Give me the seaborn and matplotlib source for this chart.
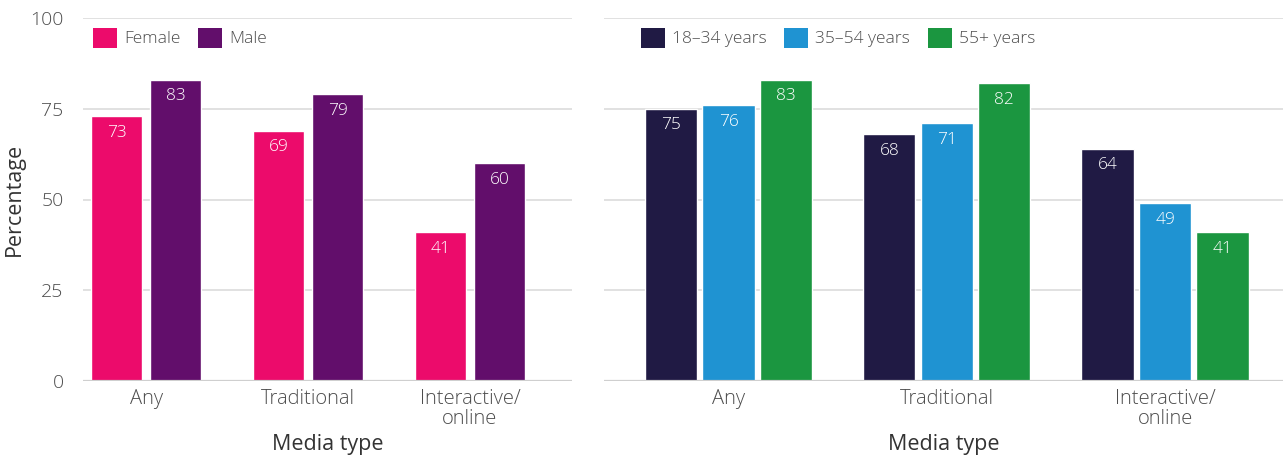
import numpy as np
import pandas as pd
import matplotlib
matplotlib.use("Agg")
import matplotlib.pyplot as plt
from matplotlib.patches import Patch
import seaborn as sns

# Media types and survey results (percent)
media_types = ["Any", "Traditional", "Interactive/\nonline"]

sex_groups = ["Female", "Male"]
female_pct = [73, 69, 41]
male_pct = [83, 79, 60]

age_groups = ["18\u201334 years", "35\u201354 years", "55+ years"]
age_18_34_pct = [75, 68, 64]
age_35_54_pct = [76, 71, 49]
age_55_plus_pct = [83, 82, 41]

sex_colors = ["#EC0B6B", "#620E6B"]
age_colors = ["#201A44", "#1F93D2", "#1B9640"]

sex_df = pd.DataFrame({
    "Media type": media_types * 2,
    "Group": [g for g in sex_groups for _ in media_types],
    "Percentage": female_pct + male_pct,
})
age_df = pd.DataFrame({
    "Media type": media_types * 3,
    "Group": [g for g in age_groups for _ in media_types],
    "Percentage": age_18_34_pct + age_35_54_pct + age_55_plus_pct,
})

sns.set_theme(style="white")
plt.rcParams["font.family"] = ["Open Sans", "DejaVu Sans"]
plt.rcParams["font.weight"] = "light"
text_grey = "#4d4d4d"

fig = plt.figure(figsize=(12.85, 4.57), dpi=100)
ax_l = fig.add_axes([83 / 1285, 76 / 457, 489 / 1285, 363 / 457])
ax_r = fig.add_axes([604 / 1285, 76 / 457, 679 / 1285, 363 / 457])


def draw_panel(ax, df, groups, colors, width, gap, xlim, legend_cols):
    sns.barplot(data=df, x="Media type", y="Percentage", hue="Group",
                hue_order=groups, palette=colors, width=width, gap=gap,
                saturation=1, errorbar=None, ax=ax, legend=False, zorder=3)
    ax.set_ylim(0, 100)
    ax.set_xlim(*xlim)
    ax.set_yticks([0, 25, 50, 75, 100])
    for y in [25, 50, 75, 100]:
        ax.axhline(y, color="#dcdcdc", lw=1.2, zorder=1)
    ax.axhline(0, color="#cfcfcf", lw=1.6, zorder=4)
    for s in ax.spines.values():
        s.set_visible(False)
    ax.tick_params(axis="x", length=0, labelsize=14.5, colors=text_grey, pad=6)
    ax.tick_params(axis="y", length=0, labelsize=14, colors=text_grey, pad=14)
    for lbl in ax.get_xticklabels():
        lbl.set_linespacing(0.95)
    ax.set_xlabel("Media type", fontsize=15.5, color="#333333", labelpad=4)
    for container in ax.containers:
        for bar in container:
            h = bar.get_height()
            ax.annotate(f"{h:.0f}", (bar.get_x() + bar.get_width() / 2, h),
                        xytext=(0, -12), textcoords="offset points",
                        ha="center", va="center", color="white",
                        fontsize=12.5, zorder=5)
    handles = [Patch(facecolor=c, edgecolor="none") for c in colors]
    ax.legend(handles, groups, loc="upper left", bbox_to_anchor=(0.0, 1.0),
              ncol=legend_cols, frameon=False, fontsize=12.5,
              handlelength=1.4, handleheight=1.4, handletextpad=0.4,
              columnspacing=1.0, labelcolor=text_grey, borderaxespad=0.15)


draw_panel(ax_l, sex_df, sex_groups, sex_colors, width=0.73, gap=0.14,
           xlim=(-0.39, 2.63), legend_cols=2)
ax_l.set_ylabel("Percentage", fontsize=15.5, color="#333333", labelpad=4)

draw_panel(ax_r, age_df, age_groups, age_colors, width=0.79, gap=0.09,
           xlim=(-0.57, 2.54), legend_cols=3)
ax_r.set_ylabel("")
ax_r.set_yticklabels([])
ax_r.get_legend().set_bbox_to_anchor((0.04, 1.0))

fig.savefig("out.png", dpi=100)
